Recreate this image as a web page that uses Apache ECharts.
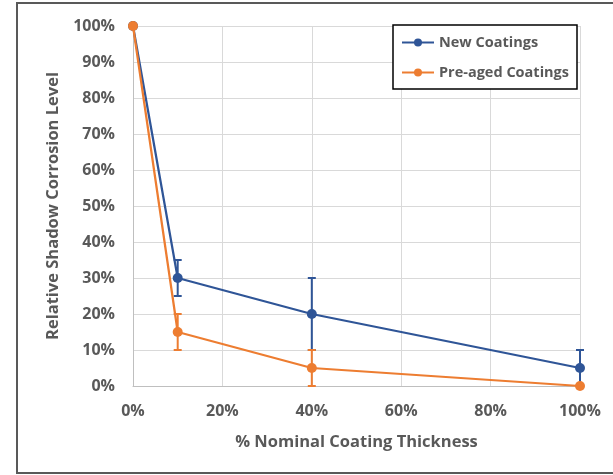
<!DOCTYPE html>
<html lang="en">
<head>
    <meta charset="UTF-8">
    <title>Shadow Corrosion</title>
    <script src="https://cdn.jsdelivr.net/npm/echarts@6/dist/echarts.min.js"></script>
    <style>
        html, body { margin: 0; padding: 0; background: #fff; }
        #main { width: 613px; height: 475px; }
    </style>
</head>
<body>
    <div id="main"></div>
    <script>
        // data
        var thickness = [0, 10, 40, 100];          // % nominal coating thickness
        var newCoat = [100, 30, 20, 5];
        var newErr = [0, 5, 10, 5];
        var agedCoat = [100, 15, 5, 0];
        var agedErr = [0, 5, 5, 0];

        var blue = '#2F5597';
        var orange = '#ED7D31';
        var txt = '#595959';
        var font = 'Open Sans';

        function pairs(ys) {
            var out = [];
            for (var i = 0; i < thickness.length; i++) out.push([thickness[i], ys[i]]);
            return out;
        }
        function errData(ys, errs) {
            var out = [];
            for (var i = 0; i < thickness.length; i++) {
                if (errs[i] > 0) out.push([thickness[i], Math.max(0, ys[i] - errs[i]), ys[i] + errs[i]]);
            }
            return out;
        }
        function errRender(color) {
            return function (params, api) {
                var x = api.value(0);
                var top = api.coord([x, api.value(2)]);
                var bot = api.coord([x, api.value(1)]);
                var w = 4;
                var st = { stroke: color, lineWidth: 2 };
                return {
                    type: 'group',
                    children: [
                        { type: 'line', shape: { x1: top[0], y1: top[1], x2: bot[0], y2: bot[1] }, style: st },
                        { type: 'line', shape: { x1: top[0] - w, y1: top[1], x2: top[0] + w, y2: top[1] }, style: st },
                        { type: 'line', shape: { x1: bot[0] - w, y1: bot[1], x2: bot[0] + w, y2: bot[1] }, style: st }
                    ]
                };
            };
        }

        var myChart = echarts.init(document.getElementById('main'));
        var option = {
            animation: false,
            graphic: [{
                type: 'rect',
                shape: { x: 17, y: 3, width: 640, height: 470 },
                style: { fill: 'none', stroke: '#595959', lineWidth: 2 },
                silent: true
            }],
            grid: { left: 133, right: 33, top: 26, bottom: 89 },
            legend: {
                data: ['New Coatings', 'Pre-aged Coatings'],
                orient: 'vertical',
                left: 393,
                top: 25,
                padding: [10, 8, 9, 8],
                itemGap: 15,
                itemWidth: 32,
                itemHeight: 10,
                borderColor: '#000',
                borderWidth: 1.5,
                backgroundColor: '#fff',
                textStyle: { color: txt, fontFamily: font, fontWeight: 'bold', fontSize: 14.5 }
            },
            xAxis: {
                type: 'value',
                min: 0, max: 100, interval: 20,
                name: '% Nominal Coating Thickness',
                nameLocation: 'middle',
                nameGap: 48,
                nameTextStyle: { color: txt, fontFamily: font, fontWeight: 'bold', fontSize: 16.5 },
                axisLine: { lineStyle: { color: '#bfbfbf' } },
                axisTick: { show: false },
                axisLabel: { formatter: '{value}%', color: txt, fontFamily: font, fontWeight: 'bold', fontSize: 16, margin: 17 },
                splitLine: { lineStyle: { color: '#d9d9d9' } }
            },
            yAxis: {
                type: 'value',
                min: 0, max: 100, interval: 10,
                name: 'Relative Shadow Corrosion Level',
                nameLocation: 'middle',
                nameGap: 69,
                nameTextStyle: { color: txt, fontFamily: font, fontWeight: 'bold', fontSize: 16.5 },
                axisLine: { show: true, lineStyle: { color: '#bfbfbf' } },
                axisTick: { show: false },
                axisLabel: { formatter: '{value}%', color: txt, fontFamily: font, fontWeight: 'bold', fontSize: 16, margin: 18 },
                splitLine: { lineStyle: { color: '#d9d9d9' } }
            },
            series: [
                {
                    name: 'New Coatings',
                    type: 'line',
                    data: pairs(newCoat),
                    symbol: 'circle',
                    symbolSize: 10,
                    color: blue,
                    lineStyle: { width: 2.25 },
                    z: 2
                },
                {
                    name: 'New Coatings err',
                    type: 'custom',
                    data: errData(newCoat, newErr),
                    renderItem: errRender(blue),
                    clip: false,
                    z: 3
                },
                {
                    name: 'Pre-aged Coatings',
                    type: 'line',
                    data: pairs(agedCoat),
                    symbol: 'circle',
                    symbolSize: 10,
                    color: orange,
                    lineStyle: { width: 2.25 },
                    z: 4
                },
                {
                    name: 'Pre-aged Coatings err',
                    type: 'custom',
                    data: errData(agedCoat, agedErr),
                    renderItem: errRender(orange),
                    clip: false,
                    z: 5
                }
            ]
        };
        myChart.setOption(option);
    </script>
</body>
</html>
